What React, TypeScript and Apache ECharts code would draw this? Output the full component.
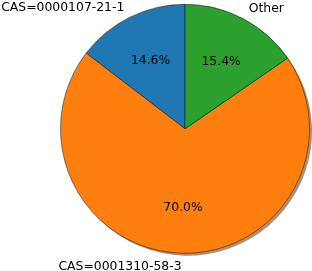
import React, { useEffect, useRef } from "react";
import * as echarts from "echarts";

const labels = ["CAS=0000107-21-1", "CAS=0001310-58-3", "Other"];
const values = [14.6, 70.0, 15.4];
const colors = ["#1f77b4", "#ff7f0e", "#2ca02c"];
const shadowColors = ["rgba(9,36,54,0.5)", "rgba(76,38,4,0.5)", "rgba(13,48,13,0.5)"];

export default function App() {
  const ref = useRef<HTMLDivElement>(null);
  useEffect(() => {
    const chart = echarts.init(ref.current!, undefined, { renderer: "svg" });
    const R = 124.5;
    const cx = 185;
    const cy = 128.8;
    const font = { fontFamily: "DejaVu Sans", fontSize: 12.4, color: "#000" };
    chart.setOption({
      animation: false,
      series: [
        {
          type: "pie",
          silent: true,
          center: [cx + 2.5, cy + 2.5],
          radius: [0, R],
          startAngle: 90,
          clockwise: false,
          label: { show: false },
          labelLine: { show: false },
          data: values.map((v, i) => ({ value: v, name: labels[i], itemStyle: { color: shadowColors[i] } })),
        },
        {
          type: "pie",
          center: [cx, cy],
          radius: [0, R],
          startAngle: 90,
          clockwise: false,
          avoidLabelOverlap: false,
          itemStyle: { borderColor: "rgba(0,0,0,0.75)", borderWidth: 0.6 },
          label: { show: true, position: "outside", distanceToLabelLine: 0, formatter: "{b}", ...font },
          labelLine: { show: false, length: R * 0.1, length2: 0 },
          data: values.map((v, i) => ({ value: v, name: labels[i], itemStyle: { color: colors[i] } })),
        },
        {
          type: "pie",
          silent: true,
          center: [cx, cy],
          radius: [0, R * 1.2],
          startAngle: 90,
          clockwise: false,
          avoidLabelOverlap: false,
          itemStyle: { color: "rgba(0,0,0,0)" },
          label: {
            show: true,
            position: "inside",
            formatter: (p: any) => p.percent.toFixed(1) + "%",
            ...font,
          },
          labelLine: { show: false },
          data: values.map((v, i) => ({ value: v, name: labels[i] })),
        },
      ],
    });
    return () => chart.dispose();
  }, []);
  return <div ref={ref} style={{ position: "fixed", left: 0, top: 0, width: 312, height: 271 }} />;
}
